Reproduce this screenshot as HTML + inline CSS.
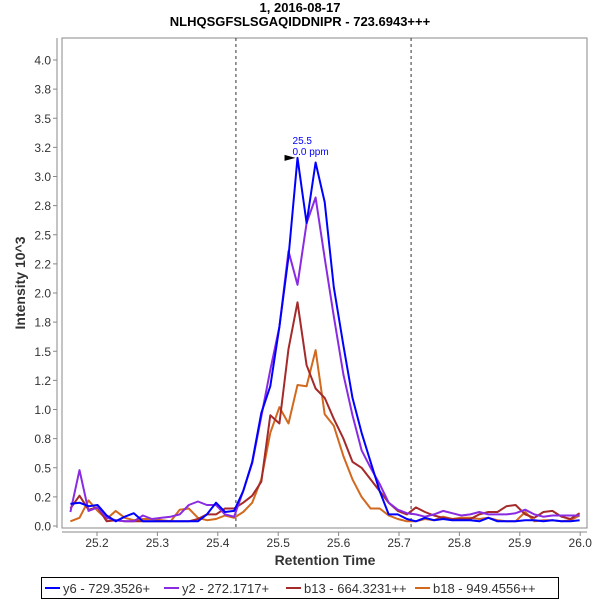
<!DOCTYPE html>
<html><head><meta charset="utf-8"><style>
body{margin:0;background:#fff;}
svg{display:block;font-family:"Liberation Sans","DejaVu Sans",sans-serif;}
</style></head><body>
<svg id="chart" width="600" height="600" viewBox="0 0 600 600">
<text x="300" y="12" text-anchor="middle" font-size="13" font-weight="bold">1, 2016-08-17</text>
<text x="300" y="26" text-anchor="middle" font-size="13" font-weight="bold">NLHQSGFSLSGAQIDDNIPR - 723.6943+++</text>
<rect x="62" y="38" width="525" height="490" fill="#fff" stroke="#888" stroke-width="1"/>
<g id="yaxis"></g>
<g id="xaxis"></g>
<g id="series"></g>
<text transform="translate(25,283) rotate(-90)" text-anchor="middle" font-size="14" font-weight="bold" fill="#333">Intensity 10^3</text>
<text x="325" y="565" text-anchor="middle" font-size="14" font-weight="bold" fill="#333">Retention Time</text>
<g>
<rect x="41.5" y="577.5" width="517" height="21" fill="#fff" stroke="#000"/>
<line x1="45" y1="588" x2="60" y2="588" stroke="#0000ff" stroke-width="2"/>
<text x="63" y="593" font-size="13" fill="#333">y6 - 729.3526+</text>
<line x1="164" y1="588" x2="179" y2="588" stroke="#8a2be2" stroke-width="2"/>
<text x="182" y="593" font-size="13" fill="#333">y2 - 272.1717+</text>
<line x1="286" y1="588" x2="301" y2="588" stroke="#a52a2a" stroke-width="2"/>
<text x="304" y="593" font-size="13" fill="#333">b13 - 664.3231++</text>
<line x1="415" y1="588" x2="430" y2="588" stroke="#d2691e" stroke-width="2"/>
<text x="433" y="593" font-size="13" fill="#333">b18 - 949.4556++</text>
</g>
</svg>
<script>
const yTicks=[0,0.25,0.5,0.75,1,1.25,1.5,1.75,2,2.25,2.5,2.75,3,3.25,3.5,3.75,4];
const yTickLabels=["0.0","0.2","0.5","0.8","1.0","1.2","1.5","1.8","2.0","2.2","2.5","2.8","3.0","3.2","3.5","3.8","4.0"];
const xTicks=[25.2,25.3,25.4,25.5,25.6,25.7,25.8,25.9,26.0];
const xTickLabels=["25.2","25.3","25.4","25.5","25.6","25.7","25.8","25.9","26.0"];
const boundaries=[25.43,25.72];
const apexTime=25.532, apexValue=3.16;
const times=[25.156,25.171,25.186,25.201,25.216,25.231,25.246,25.261,25.276,25.291,25.307,25.322,25.337,25.352,25.367,25.382,25.397,25.412,25.427,25.442,25.457,25.472,25.487,25.502,25.517,25.532,25.547,25.562,25.577,25.592,25.608,25.623,25.638,25.653,25.668,25.683,25.698,25.713,25.728,25.743,25.758,25.773,25.788,25.803,25.818,25.833,25.848,25.863,25.878,25.893,25.909,25.924,25.939,25.954,25.969,25.984,25.999];
const y6=[0.19,0.20,0.17,0.18,0.09,0.04,0.08,0.11,0.04,0.04,0.04,0.04,0.04,0.04,0.04,0.10,0.20,0.12,0.13,0.30,0.55,0.97,1.20,1.71,2.31,3.16,2.60,3.12,2.78,2.05,1.55,1.10,0.80,0.55,0.30,0.10,0.10,0.06,0.04,0.07,0.05,0.06,0.05,0.05,0.05,0.04,0.07,0.04,0.04,0.04,0.05,0.05,0.04,0.05,0.04,0.04,0.05];
const y2=[0.12,0.48,0.13,0.16,0.07,0.05,0.04,0.04,0.09,0.06,0.07,0.08,0.10,0.18,0.21,0.18,0.18,0.10,0.08,0.30,0.54,0.94,1.34,1.71,2.36,2.07,2.60,2.82,2.30,1.80,1.30,0.95,0.65,0.50,0.36,0.20,0.14,0.11,0.10,0.08,0.10,0.13,0.11,0.09,0.10,0.12,0.10,0.10,0.10,0.11,0.14,0.10,0.08,0.09,0.09,0.09,0.09];
const b13=[0.15,0.26,0.14,0.16,0.04,0.05,0.04,0.04,0.04,0.04,0.04,0.04,0.04,0.04,0.06,0.10,0.10,0.15,0.15,0.20,0.26,0.38,0.95,0.88,1.52,1.92,1.38,1.18,1.10,0.92,0.75,0.55,0.50,0.40,0.30,0.20,0.13,0.10,0.16,0.12,0.09,0.07,0.06,0.06,0.06,0.10,0.12,0.12,0.17,0.18,0.10,0.07,0.12,0.13,0.08,0.06,0.11];
const b18=[0.04,0.07,0.22,0.13,0.06,0.13,0.07,0.05,0.06,0.06,0.05,0.04,0.14,0.15,0.07,0.05,0.06,0.09,0.07,0.12,0.20,0.40,0.80,1.02,0.88,1.21,1.20,1.51,0.96,0.86,0.60,0.40,0.25,0.15,0.15,0.09,0.06,0.04,0.04,0.06,0.05,0.08,0.06,0.07,0.07,0.06,0.07,0.05,0.04,0.04,0.12,0.04,0.05,0.05,0.04,0.05,0.09];

const NS="http://www.w3.org/2000/svg";
function X(t){return 97+(t-25.2)*604;}
function Y(v){return 526-v*116.5;}
function mk(tag,attrs,parent){const e=document.createElementNS(NS,tag);for(const k in attrs)e.setAttribute(k,attrs[k]);parent.appendChild(e);return e;}
const ya=document.getElementById('yaxis'),xa=document.getElementById('xaxis'),sg=document.getElementById('series');
mk('line',{x1:57,y1:38,x2:57,y2:528,stroke:'#888'},ya);
yTicks.forEach((v,i)=>{
  const l=mk('line',{x1:53,y1:Y(v),x2:57,y2:Y(v),stroke:'#888'},ya);
  
  
  const t=mk('text',{x:51,y:Y(v)+4.5,'text-anchor':'end','font-size':12,fill:'#333'},ya);
  t.textContent=yTickLabels[i];
  
  
});
mk('line',{x1:62,y1:532,x2:587,y2:532,stroke:'#888'},xa);
xTicks.forEach((v,i)=>{
  const l=mk('line',{x1:X(v),y1:532,x2:X(v),y2:536,stroke:'#888'},xa);
  
  
  const t=mk('text',{x:X(v),y:547,'text-anchor':'middle','font-size':12,fill:'#333'},xa);
  t.textContent=xTickLabels[i];
  
  
});
boundaries.forEach(b=>{
  const l=mk('line',{x1:X(b),y1:38,x2:X(b),y2:528,stroke:'#333','stroke-dasharray':'3,3'},sg);
  
  
});
const series=[[b18,'#d2691e','series-b18'],[b13,'#a52a2a','series-b13'],[y2,'#8a2be2','series-y2'],[y6,'#0000ff','series-y6']];
series.forEach(s=>{
  const pts=s[0].map((v,i)=>X(times[i]).toFixed(1)+','+Y(v).toFixed(1)).join(' ');
  const p=mk('polyline',{points:pts,fill:'none',stroke:s[1],'stroke-width':2,'stroke-linejoin':'round'},sg);
  
  
});
const ax=X(apexTime),ay=Y(apexValue);
const tri=mk('polygon',{points:(ax-13)+','+(ay-3)+' '+(ax-2)+','+ay+' '+(ax-13)+','+(ay+3),fill:'#000'},sg);


const a1=mk('text',{x:ax-5,y:ay-14,'font-size':10,fill:'#0000ff'},sg);
a1.textContent='25.5';


const a2=mk('text',{x:ax-5,y:ay-3,'font-size':10,fill:'#0000ff'},sg);
a2.textContent='0.0 ppm';


</script>
</body></html>
